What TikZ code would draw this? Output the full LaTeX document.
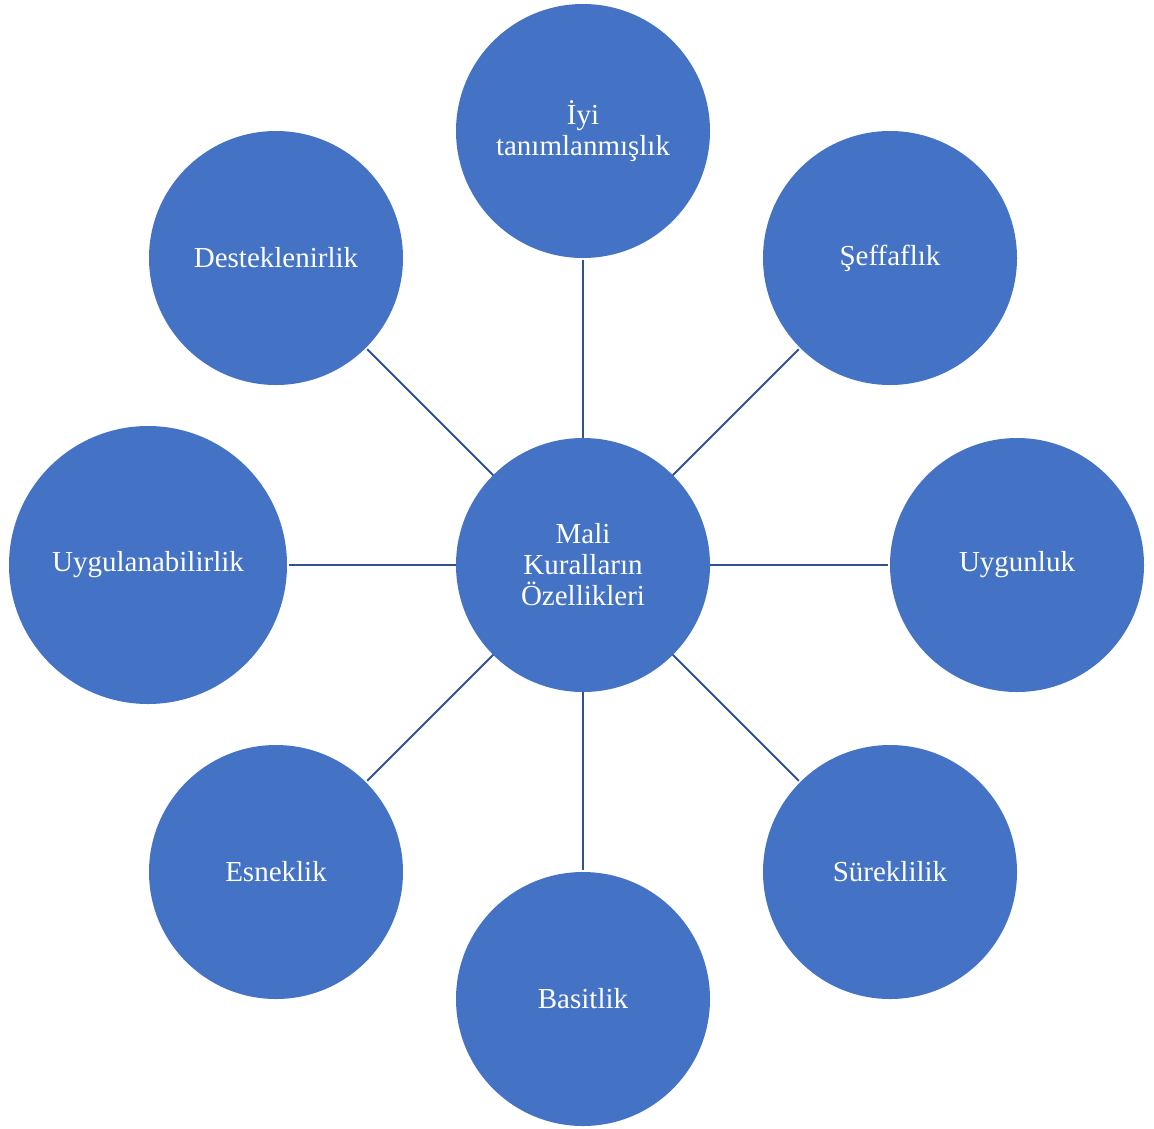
\documentclass[tikz,border=0pt]{standalone}
\usepackage{fontspec}
\setmainfont{Liberation Serif}
\definecolor{fillblue}{HTML}{4472C4}
\definecolor{lineblue}{HTML}{2F528F}
\begin{document}
\begin{tikzpicture}[x=1pt,y=-1pt,
  bubble/.style={circle,fill=fillblue,draw=none,minimum size=254pt,inner sep=0pt,outer sep=0pt,
    text=white,align=center,font=\fontsize{29}{31}\selectfont},
  bigbubble/.style={bubble,minimum size=278pt},
  link/.style={draw=lineblue,line width=2pt,shorten >=2pt}]
\useasboundingbox (0,0) rectangle (1154,1128);
\node[bubble] (c) at (583,565) {Mali\\Kuralların\\Özellikleri};
\node[bubble] (t) at (583,131) {İyi\\tanımlanmışlık};
\node[bubble] (tr) at (890,258) {Şeffaflık};
\node[bubble] (r) at (1017,565) {Uygunluk};
\node[bubble] (br) at (890,872) {Süreklilik};
\node[bubble] (b) at (583,999) {Basitlik};
\node[bubble] (bl) at (276,872) {Esneklik};
\node[bigbubble] (l) at (148,565) {Uygulanabilirlik};
\node[bubble] (tl) at (276,258) {Desteklenirlik};
\foreach \n in {t,tr,r,br,b,bl,l,tl}{
  \draw[link] (c) -- (\n);
}
\end{tikzpicture}
\end{document}
